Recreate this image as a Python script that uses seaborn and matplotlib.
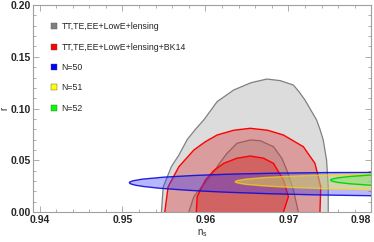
import numpy as np
import seaborn as sns
import matplotlib.pyplot as plt
from matplotlib.patches import Ellipse
from matplotlib.lines import Line2D
from matplotlib.ticker import MultipleLocator

# Planck TT,TE,EE+LowE+lensing contours
gray_outer_ns = [0.9547, 0.9549, 0.9559, 0.9568, 0.9578, 0.9588, 0.9598, 0.9614, 0.9634,
                 0.9655, 0.9674, 0.9690, 0.9706, 0.9713, 0.9720, 0.9734, 0.9738, 0.9742,
                 0.9746, 0.9748, 0.9748]
gray_outer_r = [0.000, 0.024, 0.044, 0.055, 0.070, 0.080, 0.089, 0.1066, 0.1179,
                0.125, 0.1285, 0.127, 0.1227, 0.116, 0.1082, 0.0889, 0.080, 0.0696,
                0.0502, 0.0244, 0.000]
gray_inner_ns = [0.9580, 0.9586, 0.9596, 0.9606, 0.9616, 0.9626, 0.9638, 0.9654, 0.9666,
                 0.9682, 0.9692, 0.9698, 0.9706, 0.9712]
gray_inner_r = [0.000, 0.0148, 0.025, 0.0341, 0.046, 0.0567, 0.0664, 0.0696, 0.0689,
                0.0631, 0.052, 0.0406, 0.0213, 0.000]

# + BK14
red_outer_ns = [0.9551, 0.9555, 0.9568, 0.9586, 0.9600, 0.9614, 0.9634, 0.9654, 0.9675,
                0.9694, 0.9718, 0.9732, 0.9739, 0.9738]
red_outer_r = [0.000, 0.0244, 0.0438, 0.0599, 0.068, 0.0744, 0.079, 0.0809, 0.079,
               0.0744, 0.0631, 0.047, 0.0244, 0.000]
red_inner_ns = [0.9589, 0.9590, 0.9600, 0.9610, 0.9622, 0.9638, 0.9654, 0.9670, 0.9682,
                0.9694, 0.9700, 0.9694]
red_inner_r = [0.000, 0.0148, 0.0309, 0.040, 0.047, 0.052, 0.0541, 0.052, 0.047,
               0.0309, 0.0148, 0.000]

# model predictions for N e-folds: centre (ns, r), half axes, tilt in degrees
efolds = ["N=50", "N=51", "N=52"]
ell_ns = [0.9838, 0.9936, 0.9951]
ell_r = [0.0268, 0.0290, 0.0308]
ell_a = [0.0330, 0.0300, 0.0200]
ell_b = [0.0113, 0.0086, 0.0075]
ell_tilt = [-3.0, -0.5, 0.0]

labels = ["TT,TE,EE+LowE+lensing", "TT,TE,EE+LowE+lensing+BK14"] + efolds
xticks = [0.94, 0.95, 0.96, 0.97, 0.98]
yticks = [0.00, 0.05, 0.10, 0.15, 0.20]

sns.set_style("ticks")
plt.rcParams['font.family'] = ['Liberation Sans', 'DejaVu Sans']

fig, ax = plt.subplots(figsize=(3.74, 2.42), dpi=100)
fig.subplots_adjust(left=0.089, right=0.993, bottom=0.124, top=0.979)

def closed(xs, ys):
    return list(xs) + [xs[-1], xs[0]], list(ys) + [-0.002, -0.002]

x, y = closed(gray_outer_ns, gray_outer_r)
ax.fill(x, y, facecolor="#dcdcdc", edgecolor="#808080", lw=0.9, zorder=1)
x, y = closed(gray_inner_ns, gray_inner_r)
ax.fill(x, y, facecolor=(0.5, 0.5, 0.5, 0.25), edgecolor="#7a7a7a", lw=0.9, zorder=2)
x, y = closed(red_outer_ns, red_outer_r)
ax.fill(x, y, facecolor=(0.85, 0.15, 0.15, 0.35), edgecolor="#ff0000", lw=1.0, zorder=3)
x, y = closed(red_inner_ns, red_inner_r)
ax.fill(x, y, facecolor=(0.85, 0.2, 0.2, 0.45), edgecolor="#ff0000", lw=1.0, zorder=4)

ell_face = [(0.2, 0.2, 1.0, 0.35), (1.0, 1.0, 0.2, 0.4), (0.3, 0.95, 0.3, 0.3)]
ell_edge = [(0.05, 0.05, 0.85, 0.9), (1.0, 0.85, 0.0, 0.7), (0.0, 0.85, 0.0, 1.0)]
for i in range(len(efolds)):
    ax.add_patch(Ellipse((ell_ns[i], ell_r[i]), 2 * ell_a[i], 2 * ell_b[i], angle=ell_tilt[i],
                         facecolor=ell_face[i], edgecolor=ell_edge[i], lw=1.0, zorder=5 + i))

ax.set_xlim(0.93925, 0.98)
ax.set_ylim(0, 0.2)
ax.set_xticks(xticks, [f"{v:.2f}" for v in xticks], fontweight="bold")
ax.set_yticks(yticks, [f"{v:.2f}" for v in yticks], fontweight="bold")
ax.xaxis.set_minor_locator(MultipleLocator(0.002))
ax.yaxis.set_minor_locator(MultipleLocator(0.01))
ax.get_xticklabels()[-1].set_horizontalalignment("right")

for s in ax.spines.values():
    s.set_color("#a0a0a0")
    s.set_linewidth(0.8)
ax.tick_params(which="both", direction="in", top=True, right=True, color="#a0a0a0", width=0.6)
ax.tick_params(which="major", length=4, labelsize=7.5, pad=2)
ax.tick_params(axis="y", which="major", pad=1.5)
ax.tick_params(which="minor", length=2.2)

ax.set_xlabel(r"n$_\mathregular{s}$", fontsize=7, labelpad=2)
ax.set_ylabel("r", fontsize=7, labelpad=1)

colors = ["#808080", "#ff0000", "#0000ff", "#ffff00", "#00ff00"]
handles = [Line2D([], [], ls="", marker="s", markersize=5, markerfacecolor=c,
                  markeredgecolor="#555555", markeredgewidth=0.3) for c in colors]
ax.legend(handles, labels, loc="upper left", bbox_to_anchor=(0.027, 0.955), frameon=False,
          fontsize=6.3, labelspacing=1.3, handlelength=0.8, handletextpad=0.5)

fig.savefig("out.png", dpi=100)
